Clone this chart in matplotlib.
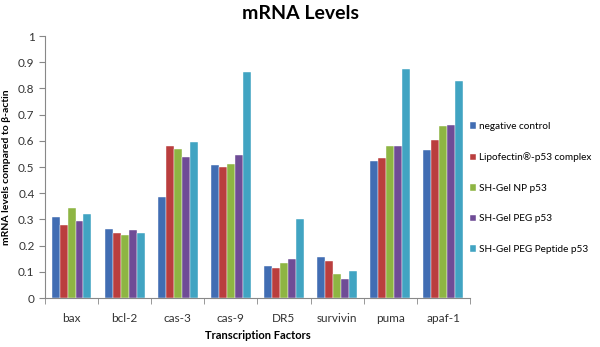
import numpy as np
import matplotlib
matplotlib.use("Agg")
from matplotlib import pyplot as plt

plt.rcParams["font.family"] = ["Lato", "DejaVu Sans"]

categories = ["bax", "bcl-2", "cas-3", "cas-9", "DR5", "survivin", "puma", "apaf-1"]
series_names = ["negative control", "Lipofectin\u00ae-p53 complex", "SH-Gel NP p53",
                "SH-Gel PEG p53", "SH-Gel PEG Peptide p53"]
neg_control = [0.310, 0.262, 0.385, 0.507, 0.123, 0.155, 0.524, 0.567]
lipofectin = [0.280, 0.248, 0.580, 0.502, 0.115, 0.141, 0.534, 0.603]
sh_gel_np = [0.345, 0.240, 0.570, 0.510, 0.135, 0.090, 0.581, 0.655]
sh_gel_peg = [0.295, 0.260, 0.537, 0.547, 0.150, 0.073, 0.580, 0.659]
sh_gel_peptide = [0.322, 0.250, 0.595, 0.863, 0.300, 0.103, 0.874, 0.827]
colors = ["#416DB3", "#BA3E3E", "#8EB543", "#6F4C96", "#41A4C2"]

series = [neg_control, lipofectin, sh_gel_np, sh_gel_peg, sh_gel_peptide]

fig = plt.figure(figsize=(6, 3.47), dpi=100)
ax = fig.add_axes([0.075, 0.141, 0.708, 0.755])

x = np.arange(len(categories))
w = 0.15
for i, (vals, name, c) in enumerate(zip(series, series_names, colors)):
    ax.bar(x + (i - 2) * w, vals, w, color=c, label=name, edgecolor="white", linewidth=0.3)

ax.set_xlim(-0.5, len(categories) - 0.5)
ax.set_ylim(0, 1)
ax.set_yticks(np.arange(0, 1.01, 0.1))
ax.set_yticklabels(["0", "0.1", "0.2", "0.3", "0.4", "0.5", "0.6", "0.7", "0.8", "0.9", "1"])
ax.set_xticks(x)
ax.set_xticklabels(categories)
ax.set_xticks(np.arange(-0.5, len(categories)), minor=True)
ax.tick_params(axis="x", which="major", length=0, pad=11, labelsize=8.5, colors="#333333")
ax.tick_params(axis="x", which="minor", length=4, color="#888888", direction="out")
ax.tick_params(axis="y", length=4, color="#888888", labelsize=8.5, labelcolor="#333333")
for s in ["top", "right"]:
    ax.spines[s].set_visible(False)
for s in ["left", "bottom"]:
    ax.spines[s].set_color("#888888")

ax.set_ylabel("mRNA levels compared to \u03b2-actin", fontsize=7.5, fontweight="bold", labelpad=5)
ax.set_xlabel("Transcription Factors", fontsize=8, fontweight="bold", labelpad=4)
fig.suptitle("mRNA Levels", fontsize=14, fontweight="bold", y=0.985)

ax.legend(loc="center left", bbox_to_anchor=(0.995, 0.42), frameon=False, fontsize=7.2,
          handlelength=0.6, handleheight=0.6, handletextpad=0.35, labelspacing=2.15,
          borderaxespad=0.0, borderpad=0.2)

plt.savefig("out.png", dpi=100)
